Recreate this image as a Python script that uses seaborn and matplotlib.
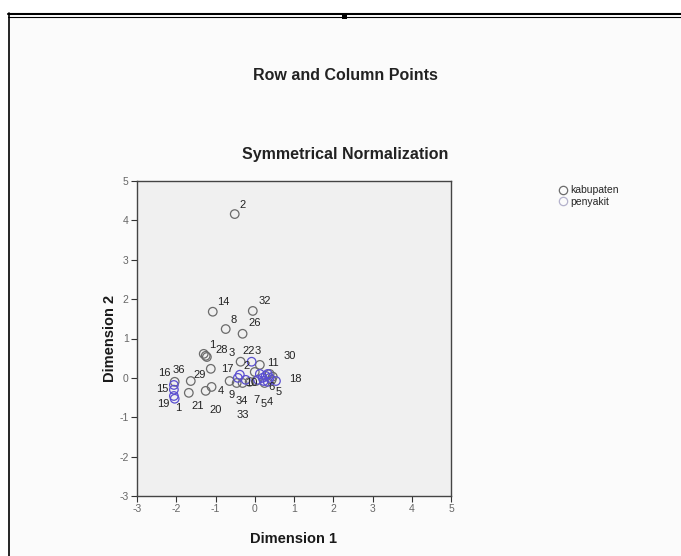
import pandas as pd
import seaborn as sns
import matplotlib.pyplot as plt
from matplotlib.lines import Line2D
from matplotlib.patches import Rectangle

# row points (kabupaten)
kab_x = [-0.51, -1.07, -0.05, -0.74, -0.31, -1.30, -1.25, -1.22, -0.36, 0.13,
         -1.12, -1.63, -2.04, -1.68, -1.10, -1.25, -0.64, -0.46, -0.31, -0.13,
         0.03, 0.46, 0.38, 0.00, 0.25, 0.43]
kab_y = [4.16, 1.68, 1.70, 1.24, 1.12, 0.61, 0.56, 0.53, 0.41, 0.33,
         0.23, -0.08, -0.10, -0.38, -0.23, -0.33, -0.08, -0.13, -0.13, -0.10,
         -0.08, 0.03, 0.10, 0.15, -0.13, -0.05]
kab_lab = ['2', '14', '32', '8', '26', '1', '28', '3', '22', '11',
           '17', '29', '36', '21', '4', '20', '9', '34', '33', '10',
           '7', '18', '30', '', '5', '6']

# column points (penyakit)
pen_x = [-2.06, -2.06, -2.06, -2.04, -0.38, -0.08, 0.33, 0.54,
         0.13, 0.20, 0.28, 0.38, 0.08, 0.23, 0.33, -0.43, -0.23]
pen_y = [-0.18, -0.30, -0.46, -0.53, 0.08, 0.41, -0.10, -0.08,
         0.10, 0.00, 0.05, 0.00, -0.05, -0.08, 0.10, 0.00, -0.05]
pen_lab = ['16', '15', '19', '1', '2', '3', '4', '5',
           '', '', '', '', '', '', '', '', '']

ticks = [-3, -2, -1, 0, 1, 2, 3, 4, 5]

# label placement (pixels from point), SPSS style
kab_nudge = {'14': (11, 10), '32': (12, 10), '26': (12, 11), '28': (16, 6),
             '3': (25, 4), '22': (8, 11), '11': (13, 2), '17': (16, 0),
             '29': (9, 6), '36': (4, 12), '21': (9, -13), '4': (9, -4),
             '20': (10, -19), '9': (2, -14), '34': (5, -18), '33': (0, -32),
             '10': (2, -1), '7': (1, -19), '18': (23, -2), '30': (20, 18),
             '5': (-1, -21), '6': (0, -7)}
pen_nudge = {'16': (-10, 12), '15': (-12, 1), '19': (-11, -8), '1': (4, -9),
             '2': (7, 9), '3': (6, 11), '4': (2, -20), '5': (3, -11)}

kab = pd.DataFrame({'x': kab_x, 'y': kab_y, 'lab': kab_lab})
pen = pd.DataFrame({'x': pen_x, 'y': pen_y, 'lab': pen_lab})

sns.set_theme(style='white')
plt.rcParams['font.family'] = ['Liberation Sans', 'DejaVu Sans']
plt.rcParams['axes.unicode_minus'] = False

gray = '#6b6b6b'
blue = '#5a4fd0'

fig = plt.figure(figsize=(6.81, 5.56), dpi=100)
fig.patch.set_facecolor('white')
fig.add_artist(Rectangle((9 / 681, 0), 1, 1 - 17 / 556, transform=fig.transFigure,
                         facecolor='#fbfbfb', edgecolor='none', zorder=-5))

ax = fig.add_axes([137 / 681, 60 / 556, 314 / 681, 315 / 556])
ax.set_facecolor('#f0f0f0')

sns.scatterplot(data=kab, x='x', y='y', ax=ax, s=38, marker='o',
                facecolor='none', edgecolor=gray, linewidth=0.9, zorder=3)
sns.scatterplot(data=pen, x='x', y='y', ax=ax, s=38, marker='o',
                facecolor='none', edgecolor=blue, linewidth=0.9, zorder=3)

for df, nudge in [(kab, kab_nudge), (pen, pen_nudge)]:
    for _, r in df.iterrows():
        if not r['lab']:
            continue
        off = nudge.get(r['lab'], (8, 9))
        ax.annotate(r['lab'], (r['x'], r['y']), xytext=off, textcoords='offset pixels',
                    ha='center', va='center', fontsize=8, color='#222222', zorder=4)

ax.set_xlim(-3, 5)
ax.set_ylim(-3, 5)
ax.set_xticks(ticks)
ax.set_yticks(ticks)
ax.tick_params(direction='out', length=4, width=0.8, color='#333333',
               labelsize=7.5, labelcolor='#666666', bottom=True, left=True, pad=2)
for s in ax.spines.values():
    s.set_color('#444444')
    s.set_linewidth(1.0)
ax.set_xlabel('Dimension 1', fontsize=10.5, fontweight='bold', color='#1a1a1a', labelpad=13)
ax.set_ylabel('Dimension 2', fontsize=10.5, fontweight='bold', color='#1a1a1a', labelpad=2)

fig.text(345 / 681, 1 - 75 / 556, 'Row and Column Points', ha='center', va='center',
         fontsize=11.5, fontweight='bold', color='#222222')
fig.text(345 / 681, 1 - 155 / 556, 'Symmetrical Normalization', ha='center', va='center',
         fontsize=11.5, fontweight='bold', color='#222222')

handles = [Line2D([], [], marker='o', linestyle='none', markersize=6,
                  markerfacecolor='none', markeredgecolor=gray, markeredgewidth=0.9),
           Line2D([], [], marker='o', linestyle='none', markersize=6,
                  markerfacecolor='none', markeredgecolor='#b4b2cc', markeredgewidth=0.9)]
fig.legend(handles, ['kabupaten', 'penyakit'], loc='upper left',
           bbox_to_anchor=(549 / 681, 1 - 178 / 556), frameon=False, fontsize=7.5,
           handletextpad=0.1, labelspacing=0.15, handlelength=1.2, borderpad=0.2)

# document frame around the screenshot
fig.add_artist(Line2D([8.5 / 681, 8.5 / 681], [0, 1 - 13 / 556], transform=fig.transFigure,
                      color='black', linewidth=1.2))
fig.add_artist(Line2D([8 / 681, 1], [1 - 13.5 / 556, 1 - 13.5 / 556], transform=fig.transFigure,
                      color='black', linewidth=1.5))
fig.add_artist(Line2D([8 / 681, 1], [1 - 16.5 / 556, 1 - 16.5 / 556], transform=fig.transFigure,
                      color='black', linewidth=0.8))
fig.add_artist(Rectangle((342 / 681, 1 - 19 / 556), 5 / 681, 6 / 556, transform=fig.transFigure,
                         facecolor='black', edgecolor='none'))

fig.savefig('out.png', dpi=100)
